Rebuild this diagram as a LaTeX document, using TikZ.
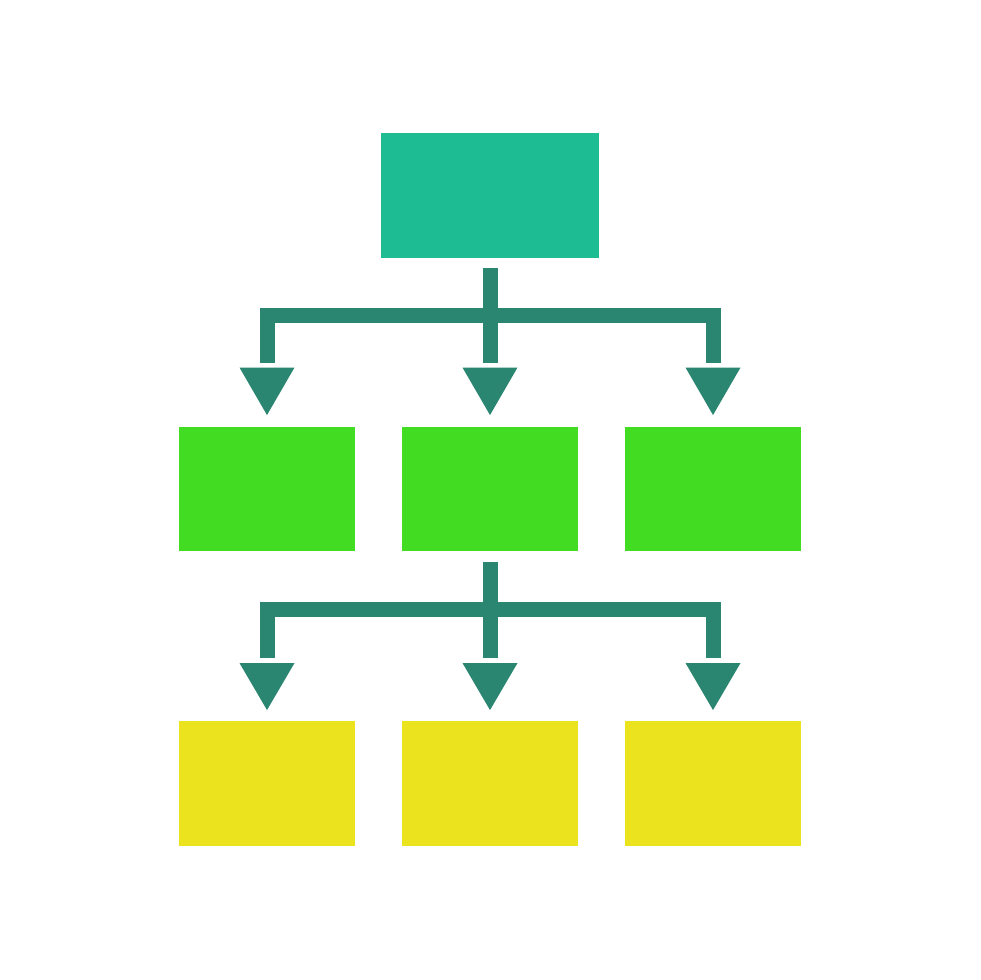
\documentclass[tikz,border=0pt]{standalone}
\usetikzlibrary{calc}
\definecolor{topc}{HTML}{1DBC93}
\definecolor{midc}{HTML}{42DD22}
\definecolor{botc}{HTML}{EAE31E}
\definecolor{linkc}{HTML}{2A8670}
\tikzset{
  box/.style={rectangle, inner sep=0pt, minimum width=176pt, minimum height=124.5pt},
  topbox/.style={box, fill=topc, minimum width=218pt, minimum height=125pt},
  midbox/.style={box, fill=midc},
  botbox/.style={box, fill=botc},
  link/.style={draw=linkc, line width=15pt, line cap=butt, line join=miter},
  head/.style={fill=linkc}
}
\begin{document}
\begin{tikzpicture}[x=1pt,y=-1pt]
\useasboundingbox[fill=white] (0,0) rectangle (980,980);
\node[topbox] (t) at (490,195.5) {};
\node[midbox] (m1) at (267,489) {};
\node[midbox] (m2) at (490,489) {};
\node[midbox] (m3) at (713,489) {};
\node[botbox] (b1) at (267,783.5) {};
\node[botbox] (b2) at (490,783.5) {};
\node[botbox] (b3) at (713,783.5) {};
% level 1 connectors
\coordinate (s1) at ($(t.south)+(0,10)$);
\coordinate (j1) at ($(t.south)+(0,57.5)$);
\foreach \c in {m1,m2,m3}{
  \coordinate (e) at ($(\c.north)+(0,-64)$);
  \fill[head] ($(\c.north)+(-27.5,-59)$) -- ($(\c.north)+(27.5,-59)$) -- ($(\c.north)+(0,-11.5)$) -- cycle;
}
\draw[link] (s1) -- ($(m2.north)+(0,-64)$);
\draw[link] ($(m1.north)+(0,-64)$) |- (j1) -| ($(m3.north)+(0,-64)$);
% level 2 connectors
\coordinate (s2) at ($(m2.south)+(0,11)$);
\coordinate (j2) at ($(m2.south)+(0,58.5)$);
\foreach \c in {b1,b2,b3}{
  \fill[head] ($(\c.north)+(-27.5,-58)$) -- ($(\c.north)+(27.5,-58)$) -- ($(\c.north)+(0,-11)$) -- cycle;
}
\draw[link] (s2) -- ($(b2.north)+(0,-63.5)$);
\draw[link] ($(b1.north)+(0,-63.5)$) |- (j2) -| ($(b3.north)+(0,-63.5)$);
\end{tikzpicture}
\end{document}
